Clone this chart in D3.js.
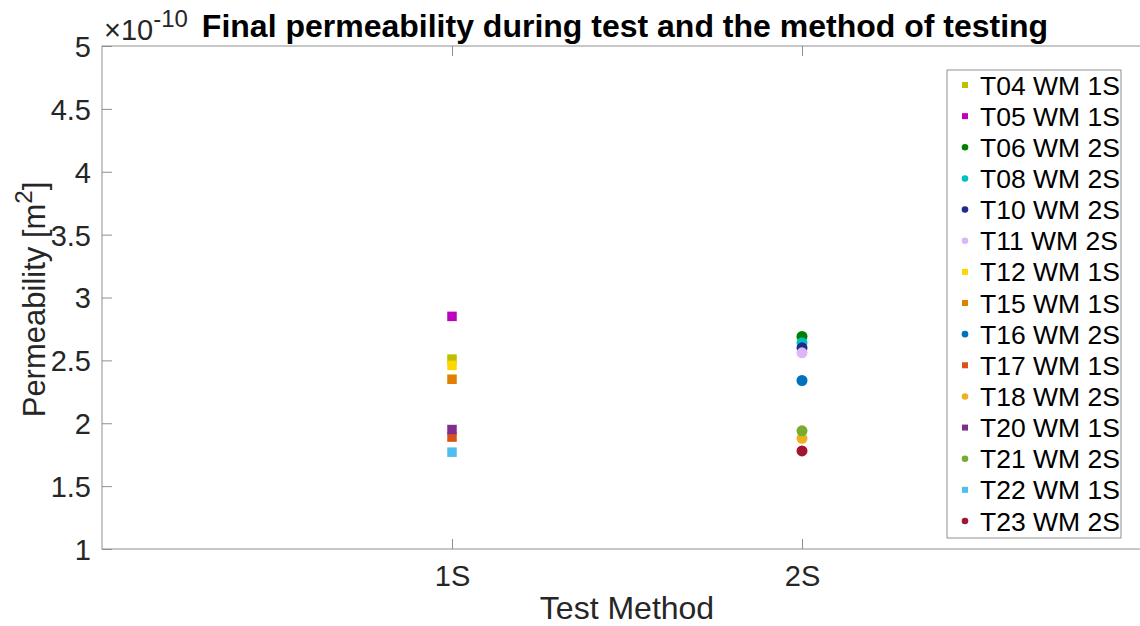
<!DOCTYPE html>
<html>
<head>
<meta charset="utf-8">
<script src="https://cdn.jsdelivr.net/npm/d3@7"></script>
<style>
  html, body { margin: 0; padding: 0; background: #fff; }
  svg { display: block; font-family: "Liberation Sans", Arial, Helvetica, sans-serif; }
</style>
</head>
<body>
<svg id="chart" width="1140" height="626"></svg>
<script>
// Test runs, the method each one used, and its final permeability (×1e-10 m²)
const seriesNames = ["T04 WM 1S", "T05 WM 1S", "T06 WM 2S", "T08 WM 2S", "T10 WM 2S",
  "T11 WM 2S", "T12 WM 1S", "T15 WM 1S", "T16 WM 2S", "T17 WM 1S", "T18 WM 2S",
  "T20 WM 1S", "T21 WM 2S", "T22 WM 1S", "T23 WM 2S"];
const seriesMethod = ["1S", "1S", "2S", "2S", "2S", "2S", "1S", "1S", "2S", "1S", "2S",
  "1S", "2S", "1S", "2S"];
const permeability = [2.51, 2.85, 2.69, 2.64, 2.60, 2.56, 2.46, 2.35, 2.34, 1.89, 1.88,
  1.95, 1.94, 1.77, 1.78];
const seriesColors = ["#BFBF00", "#BF00BF", "#008000", "#00BFBF", "#1F2A8C", "#D9B8F5",
  "#FFD700", "#E07F00", "#0072BD", "#D95319", "#EDB120", "#7E2F8E", "#77AC30",
  "#4DBEEE", "#A2142F"];
const methods = ["1S", "2S"];
const yTicks = [1, 1.5, 2, 2.5, 3, 3.5, 4, 4.5, 5];

const svg = d3.select("#chart");
const axisColor = "#262626";
const boxColor = "#8f8f8f";

const plot = { left: 102, right: 1152, top: 46, bottom: 549 };

const x = d3.scaleLinear().domain([0, methods.length + 1]).range([plot.left, plot.right]);
const y = d3.scaleLinear().domain([1, 5]).range([plot.bottom, plot.top]);
const xOf = m => x(methods.indexOf(m) + 1);

// axes box
svg.append("rect")
  .attr("x", plot.left).attr("y", plot.top)
  .attr("width", plot.right - plot.left).attr("height", plot.bottom - plot.top)
  .attr("fill", "none").attr("stroke", boxColor).attr("stroke-width", 1);

const tickLen = 10;

// y axis (ticks pointing inward)
const yAxis = d3.axisLeft(y).tickValues(yTicks).tickSize(-tickLen).tickPadding(11)
  .tickFormat(d3.format("~g"));
const gy = svg.append("g").attr("transform", `translate(${plot.left},0)`).call(yAxis);
gy.select(".domain").remove();
gy.selectAll(".tick line").attr("stroke", boxColor);
gy.selectAll(".tick text").attr("fill", axisColor).style("font-size", "29px")
  .attr("dy", "0.36em");

// x axis, bottom and mirrored ticks on top
const xAxis = d3.axisBottom(x).tickValues(methods.map((m, i) => i + 1))
  .tickSize(-tickLen).tickPadding(16).tickFormat(d => methods[d - 1]);
const gx = svg.append("g").attr("transform", `translate(0,${plot.bottom})`).call(xAxis);
gx.select(".domain").remove();
gx.selectAll(".tick line").attr("stroke", boxColor);
gx.selectAll(".tick text").attr("fill", axisColor).style("font-size", "29px");

const gxTop = svg.append("g").attr("transform", `translate(0,${plot.top})`)
  .call(d3.axisTop(x).tickValues(methods.map((m, i) => i + 1)).tickSize(-tickLen).tickFormat(""));
gxTop.select(".domain").remove();
gxTop.selectAll(".tick line").attr("stroke", boxColor);

// exponent multiplier
const expo = svg.append("text").attr("x", plot.left + 2).attr("y", 40)
  .attr("fill", axisColor).style("font-size", "29px");
expo.append("tspan").text("×10");
expo.append("tspan").attr("dy", -13).style("font-size", "24px").text("-10");

// title
svg.append("text")
  .attr("x", (plot.left + plot.right) / 2 - 2).attr("y", 37)
  .attr("text-anchor", "middle").attr("fill", "#000")
  .style("font-size", "32px").style("font-weight", "bold")
  .text("Final permeability during test and the method of testing");

// axis labels
svg.append("text")
  .attr("x", (plot.left + plot.right) / 2).attr("y", 619)
  .attr("text-anchor", "middle").attr("fill", axisColor).style("font-size", "32px")
  .text("Test Method");

const yl = svg.append("text")
  .attr("transform", `translate(45,${(plot.top + plot.bottom) / 2 + 2}) rotate(-90)`)
  .attr("text-anchor", "middle").attr("fill", axisColor).style("font-size", "31px");
yl.append("tspan").text("Permeability [m");
yl.append("tspan").attr("dy", -13).style("font-size", "24px").text("2");
yl.append("tspan").attr("dy", 13).text("]");

// markers: squares for one-stage tests, circles for two-stage tests
const data = seriesNames.map((name, i) => ({
  name, method: seriesMethod[i], value: permeability[i], color: seriesColors[i]
}));

const sq = 9.5, rad = 5.5;
const marks = svg.append("g");
data.forEach(d => {
  const cx = xOf(d.method), cy = y(d.value);
  if (d.method === "1S") {
    marks.append("rect").attr("x", cx - sq / 2).attr("y", cy - sq / 2)
      .attr("width", sq).attr("height", sq).attr("fill", d.color);
  } else {
    marks.append("circle").attr("cx", cx).attr("cy", cy).attr("r", rad).attr("fill", d.color);
  }
});

// legend
const leg = { x: 947, y: 70, w: 174, h: 468 };
const lg = svg.append("g");
lg.append("rect").attr("x", leg.x).attr("y", leg.y).attr("width", leg.w).attr("height", leg.h)
  .attr("fill", "#fff").attr("stroke", boxColor).attr("stroke-width", 1);
const rowY = d3.scaleLinear().domain([0, data.length - 1]).range([leg.y + 15, leg.y + 451]);
data.forEach((d, i) => {
  const ry = rowY(i);
  if (d.method === "1S") {
    lg.append("rect").attr("x", 965 - 3).attr("y", ry - 3).attr("width", 6).attr("height", 6)
      .attr("fill", d.color);
  } else {
    lg.append("circle").attr("cx", 965).attr("cy", ry).attr("r", 3.3).attr("fill", d.color);
  }
  lg.append("text").attr("x", 980).attr("y", ry).attr("dy", "0.36em")
    .attr("fill", "#000").style("font-size", "26.5px").text(d.name);
});
</script>
</body>
</html>
